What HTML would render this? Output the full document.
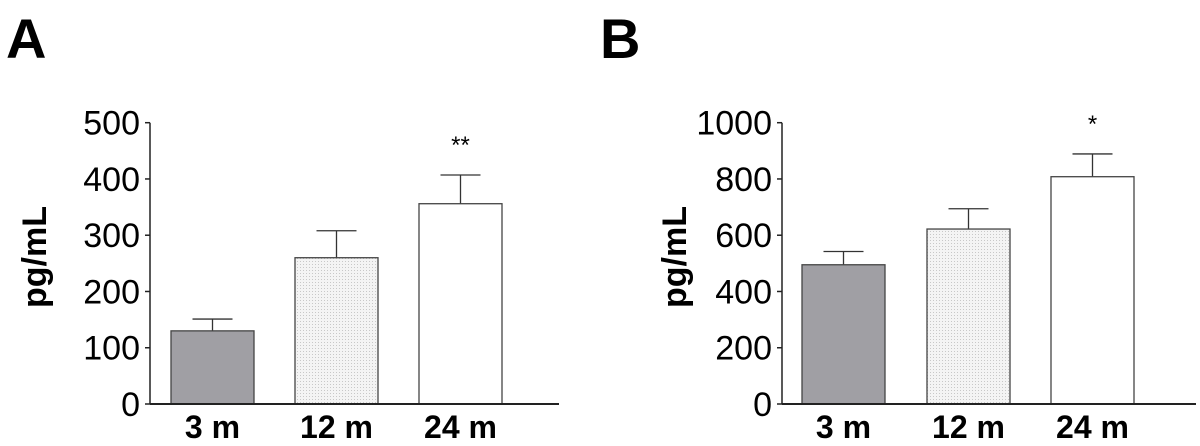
<!DOCTYPE html>
<html><head><meta charset="utf-8"><style>
html,body{margin:0;padding:0;background:#fff;}
svg{display:block;font-family:"Liberation Sans",sans-serif;}
</style></head><body>
<svg id="c" width="1200" height="446"></svg>
<script>
const categories = ["3 m","12 m","24 m"];
const valuesA = [130, 260, 356];
const errorsA = [21, 48, 51];
const valuesB = [495, 622, 808];
const errorsB = [47, 72, 81];
const ticksA = [0,100,200,300,400,500];
const ticksB = [0,200,400,600,800,1000];
const sigA = ["", "", "**"];
const sigB = ["", "", "*"];

const NS = "http://www.w3.org/2000/svg";
const svg = document.getElementById("c");
function mk(tag, attrs, parent, text){
  const e = document.createElementNS(NS, tag);
  for (const k in attrs) e.setAttribute(k, attrs[k]);
  if (text !== undefined) e.textContent = text;
  (parent||svg).appendChild(e);
  return e;
}
const defs = mk("defs", {});
const pat = mk("pattern", {id:"dots", width:"3", height:"3", patternUnits:"userSpaceOnUse"}, defs);
mk("rect", {width:"3", height:"3", fill:"#f4f4f4"}, pat);
mk("rect", {x:"0", y:"0", width:"1", height:"1", fill:"#c8c8c8"}, pat);
const fills = ["#a09fa4", "url(#dots)", "#ffffff"];

function panel(cfg){
  const g = mk("g", {});
  
  
  const y0 = 404, yTop = 122.7, max = cfg.ticks[cfg.ticks.length-1];
  const y = v => y0 - (v/max)*(y0-yTop);
  const letter = mk("text", {x:cfg.letterX, y:58, "font-size":"56", "font-weight":"bold"}, g, cfg.letter);
  
  
  const yt = mk("text", {transform:`translate(${cfg.titleX},257) rotate(-90)`, "text-anchor":"middle", "font-size":"34", "font-weight":"bold"}, g, "pg/mL");
  
  
  // bars
  categories.forEach((c,i)=>{
    const x = cfg.barX[i], w = 83;
    const top = y(cfg.values[i]), et = y(cfg.values[i]+cfg.errors[i]);
    const cx = x + w/2;
    const el = mk("line", {x1:cx, x2:cx, y1:top, y2:et, stroke:"#333", "stroke-width":"1.3"}, g);
    
    
    const cap = mk("line", {x1:cx-20, x2:cx+20, y1:et, y2:et, stroke:"#333", "stroke-width":"1.3"}, g);
    
    
    const r = mk("rect", {x:x, y:top, width:w, height:y0-top, fill:fills[i], stroke:"#444", "stroke-width":"1.3"}, g);
    
    
    const xl = mk("text", {x:cx, y:438, "text-anchor":"middle", "font-size":"32", "font-weight":"bold"}, g, c);
    
    
    if (cfg.sig[i]) {
      const s = mk("text", {x:cx, y:et-22, "text-anchor":"middle", "font-size":"24"}, g, cfg.sig[i]);
      
      
    }
  });
  // axes
  const ya = mk("line", {x1:cfg.axisX, x2:cfg.axisX, y1:yTop, y2:y0, stroke:"#222", "stroke-width":"1.5"}, g);
  
  
  const xa = mk("line", {x1:cfg.axisX, x2:cfg.axisEnd, y1:y0, y2:y0, stroke:"#222", "stroke-width":"2"}, g);
  
  
  cfg.ticks.forEach(t=>{
    const ty = y(t);
    const tk = mk("line", {x1:cfg.axisX-5, x2:cfg.axisX, y1:ty, y2:ty, stroke:"#222", "stroke-width":"1.5"}, g);
    
    
    const tl = mk("text", {x:cfg.axisX-10, y:ty+12, "text-anchor":"end", "font-size":"34"}, g, String(t));
    
    
  });
}
panel({name:"panel-a", letter:"A", letterX:6, titleX:46, axisX:150, axisEnd:559, barX:[171,295,419],
  values:valuesA, errors:errorsA, ticks:ticksA, sig:sigA});
panel({name:"panel-b", letter:"B", letterX:600, titleX:686, axisX:782, axisEnd:1196, barX:[802,927,1051],
  values:valuesB, errors:errorsB, ticks:ticksB, sig:sigB});
</script>
</body></html>
